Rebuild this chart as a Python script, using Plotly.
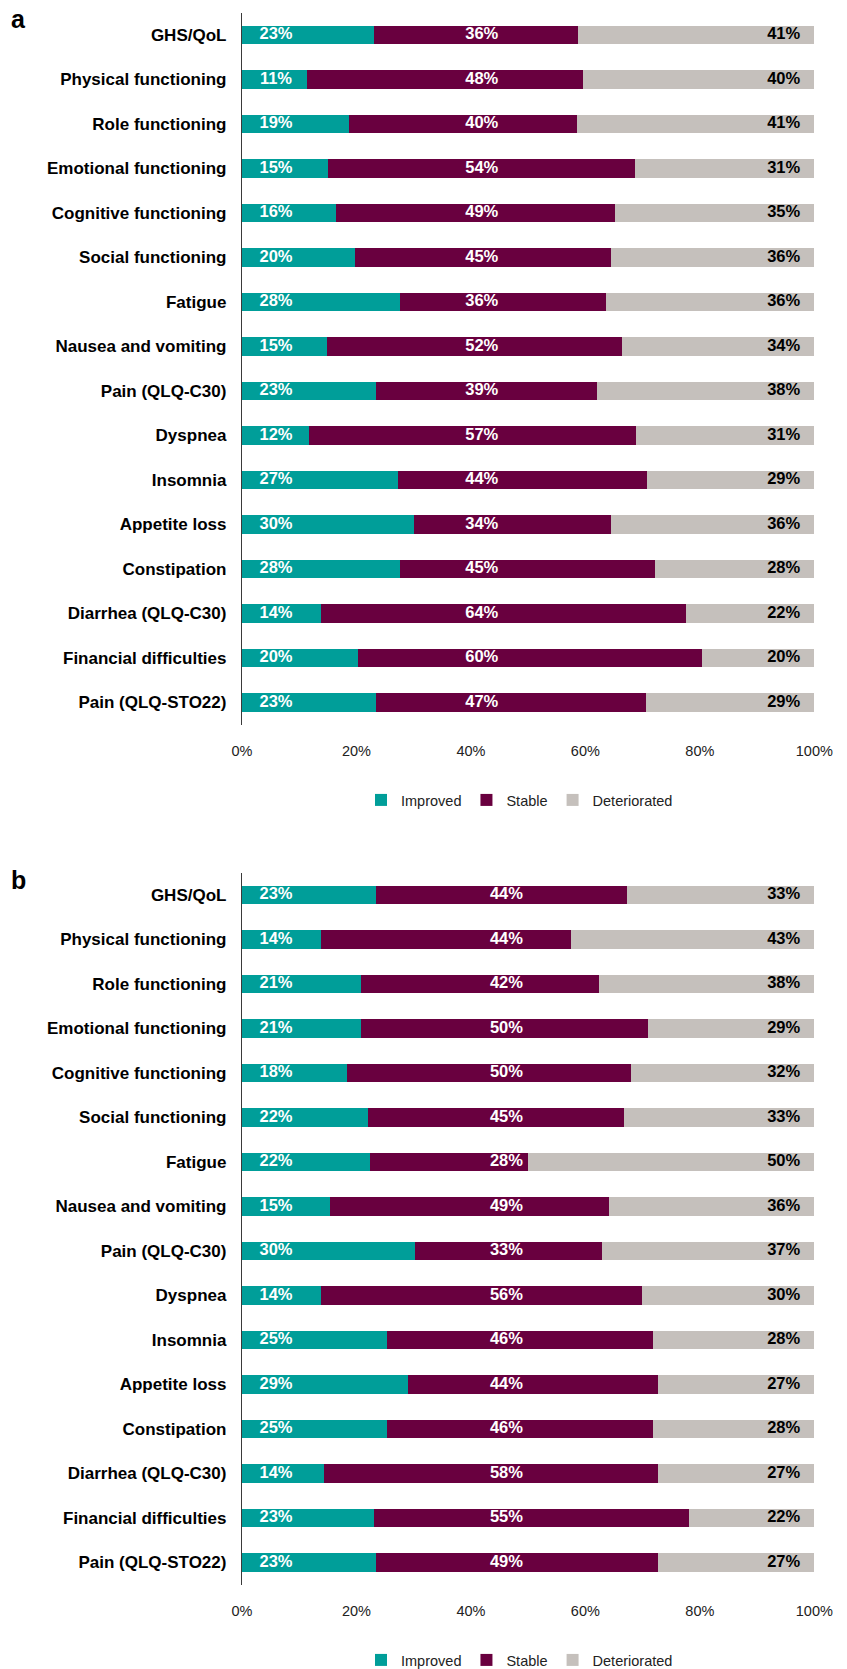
import plotly.graph_objects as go

# ---------------- data ----------------
categories = [
    "GHS/QoL", "Physical functioning", "Role functioning", "Emotional functioning",
    "Cognitive functioning", "Social functioning", "Fatigue", "Nausea and vomiting",
    "Pain (QLQ-C30)", "Dyspnea", "Insomnia", "Appetite loss", "Constipation",
    "Diarrhea (QLQ-C30)", "Financial difficulties", "Pain (QLQ-STO22)",
]
series_names = ["Improved", "Stable", "Deteriorated"]

# panel a
a_improved = [23.1, 11.3, 18.7, 15.0, 16.4, 19.8, 27.6, 14.8, 23.4, 11.7, 27.2, 30.1, 27.6, 13.8, 20.2, 23.4]
a_stable = [35.6, 48.3, 39.9, 53.6, 48.7, 44.6, 36.0, 51.6, 38.6, 57.1, 43.6, 34.3, 44.6, 63.8, 60.1, 47.2]
a_deteriorated = [41.3, 40.4, 41.4, 31.4, 34.9, 35.6, 36.4, 33.6, 38.0, 31.2, 29.2, 35.6, 27.8, 22.4, 19.7, 29.4]

# panel b
b_improved = [23.4, 13.8, 20.8, 20.8, 18.3, 22.1, 22.4, 15.3, 30.3, 13.8, 25.4, 29.0, 25.4, 14.4, 23.0, 23.4]
b_stable = [43.8, 43.6, 41.5, 50.2, 49.6, 44.6, 27.6, 48.8, 32.6, 56.1, 46.4, 43.7, 46.4, 58.3, 55.1, 49.3]
b_deteriorated = [32.8, 42.6, 37.7, 29.0, 32.1, 33.3, 50.0, 35.9, 37.1, 30.1, 28.2, 27.3, 28.2, 27.3, 21.9, 27.3]

x_tickvals = [0, 20, 40, 60, 80, 100]
x_ticktext = ["0%", "20%", "40%", "60%", "80%", "100%"]

# ---------------- style ----------------
W, H = 847, 1669
FONT = "Liberation Sans, Arial, sans-serif"
COLORS = {"Improved": "#009E99", "Stable": "#69003F", "Deteriorated": "#C5C0BC"}
TEXT_COLORS = {"Improved": "white", "Stable": "white", "Deteriorated": "black"}
X_LEFT, X_RIGHT = 242.0, 814.3

# value-label columns (in % of axis)
LABEL_X = {
    "a": {"Improved": 5.94, "Stable": 41.9, "Deteriorated": 94.65},
    "b": {"Improved": 5.94, "Stable": 46.2, "Deteriorated": 94.65},
}

panels = [
    dict(key="a", xa="x", ya="y", legend="legend",
         data=[a_improved, a_stable, a_deteriorated], top=12.75, bottom=724.75),
    dict(key="b", xa="x2", ya="y2", legend="legend2",
         data=[b_improved, b_stable, b_deteriorated], top=872.75, bottom=1584.75),
]

fig = go.Figure()

for p in panels:
    for name, vals in zip(series_names, p["data"]):
        fig.add_trace(go.Bar(
            x=vals, y=categories, orientation="h", name=name,
            marker=dict(color=COLORS[name], line=dict(width=0)),
            xaxis=p["xa"], yaxis=p["ya"], legend=p["legend"],
            hoverinfo="skip",
        ))
    for name, vals in zip(series_names, p["data"]):
        fig.add_trace(go.Scatter(
            x=[LABEL_X[p["key"]][name]] * len(categories), y=categories,
            mode="text", text=[f"{v:.0f}%" for v in vals],
            textposition="middle center",
            textfont=dict(family=FONT, size=16.5, color=TEXT_COLORS[name], weight="bold"),
            showlegend=False, hoverinfo="skip",
            xaxis=p["xa"], yaxis=p["ya"],
        ))

xdom = [X_LEFT / W, X_RIGHT / W]
n = len(categories)

def yaxis_cfg(top, bottom):
    return dict(
        domain=[1 - bottom / H, 1 - top / H],
        type="category", categoryorder="array", categoryarray=categories,
        range=[n - 0.5, -0.5], autorange=False,
        showline=True, linecolor="#3a3a3a", linewidth=1.3,
        ticks="", showgrid=False, zeroline=False, ticklabelstandoff=11,
        tickfont=dict(family=FONT, size=17, color="black", weight="bold"),
        fixedrange=True,
    )

def xaxis_cfg(anchor):
    return dict(
        domain=xdom, anchor=anchor, range=[0, 100], autorange=False,
        tickvals=x_tickvals, ticktext=x_ticktext,
        showline=False, showgrid=False, zeroline=False, ticks="", ticklabelstandoff=16,
        tickfont=dict(family=FONT, size=14.5, color="#222222"), fixedrange=True,
    )

legend_common = dict(
    orientation="h", xanchor="left", yanchor="middle", x=361 / W,
    font=dict(family=FONT, size=14.5, color="#222222"),
    bgcolor="rgba(0,0,0,0)", borderwidth=0, traceorder="normal",
)

fig.update_layout(
    width=W, height=H, margin=dict(l=0, r=0, t=0, b=0, autoexpand=False),
    paper_bgcolor="white", plot_bgcolor="white",
    barmode="stack", bargap=0.589,
    xaxis=xaxis_cfg("y"), yaxis=yaxis_cfg(panels[0]["top"], panels[0]["bottom"]),
    xaxis2=xaxis_cfg("y2"), yaxis2=yaxis_cfg(panels[1]["top"], panels[1]["bottom"]),
    legend=dict(legend_common, y=1 - 800 / H),
    legend2=dict(legend_common, y=1 - 1660 / H),
    annotations=[
        dict(text="a", x=9 / W, y=1 - 19.5 / H, xref="paper", yref="paper",
             xanchor="left", yanchor="middle", showarrow=False,
             font=dict(family=FONT, size=25, color="black", weight="bold")),
        dict(text="b", x=9 / W, y=1 - 879.5 / H, xref="paper", yref="paper",
             xanchor="left", yanchor="middle", showarrow=False,
             font=dict(family=FONT, size=25, color="black", weight="bold")),
    ],
    showlegend=True,
)

fig.write_html("out.html")
